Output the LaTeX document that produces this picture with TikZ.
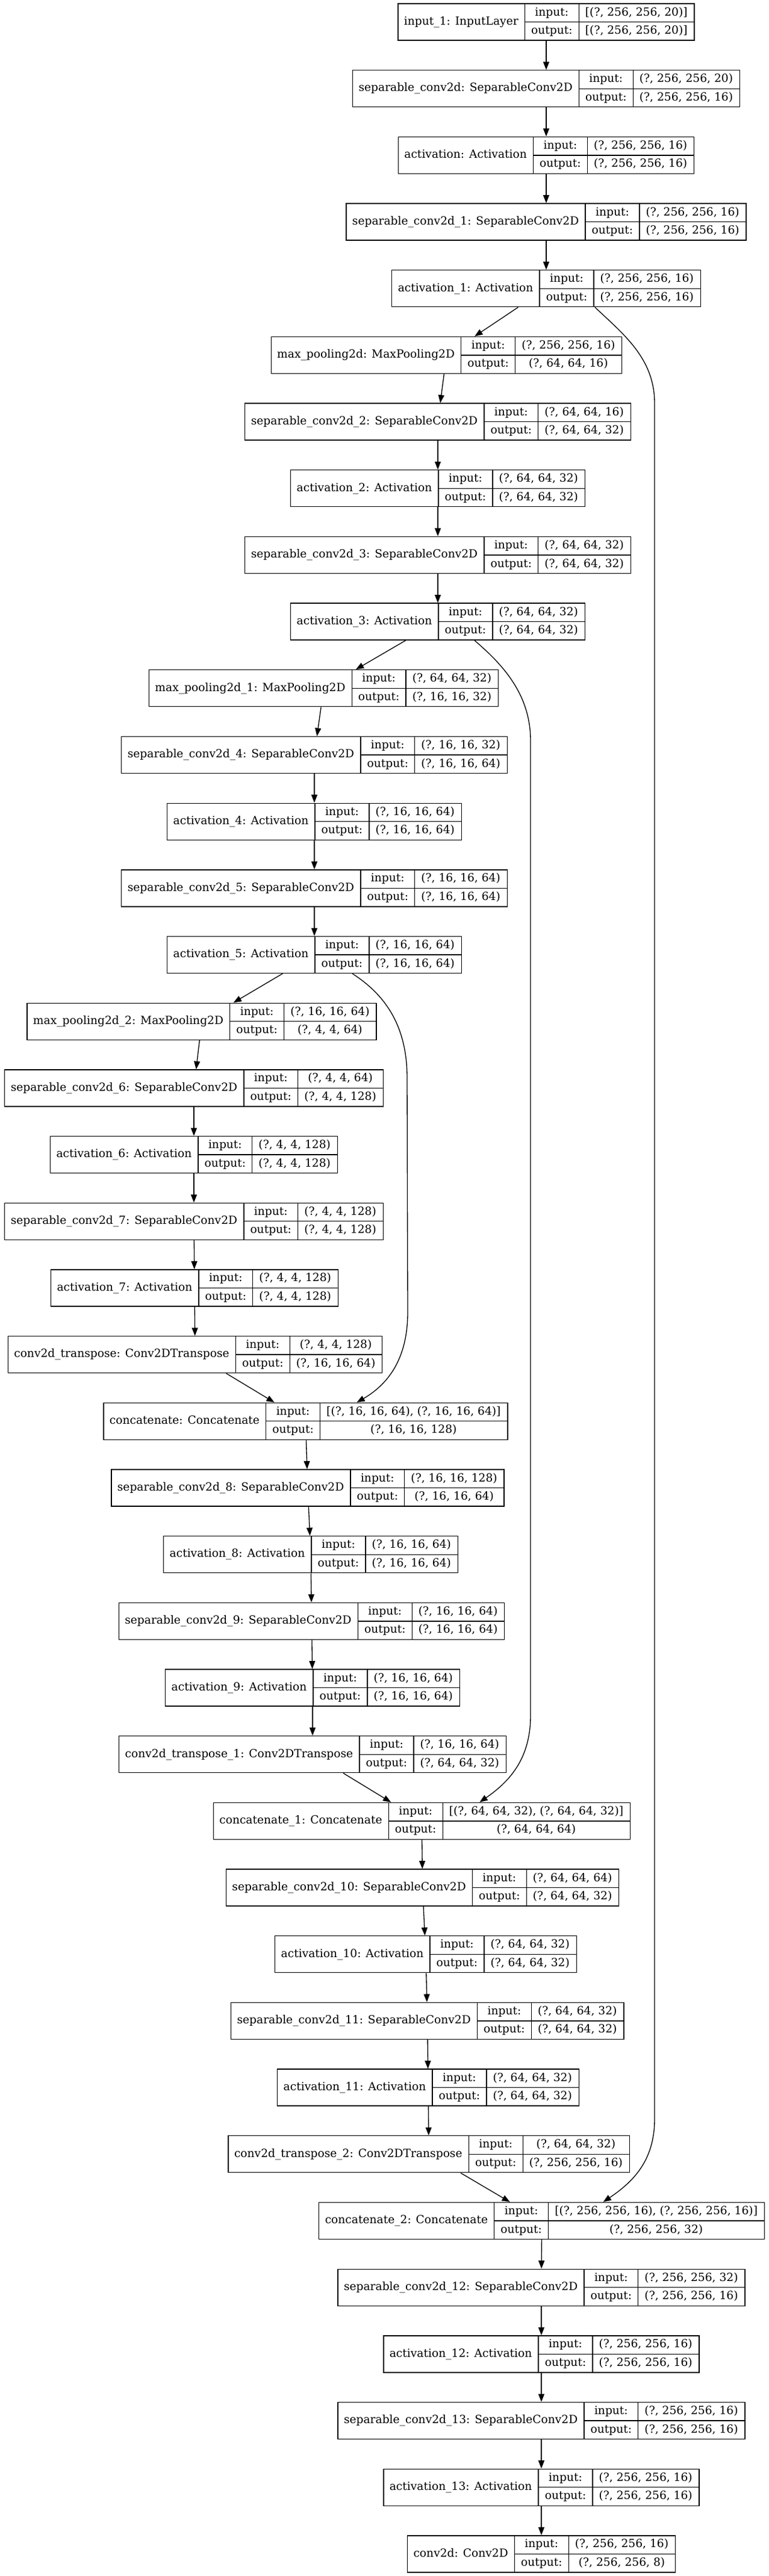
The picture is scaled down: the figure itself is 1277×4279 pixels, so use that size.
\documentclass[tikz,border=0pt]{standalone}
\usepackage{fontspec}
\newfontfamily\dvs{DejaVu Serif}
\usetikzlibrary{arrows.meta,calc}
\newlength\wA \newlength\wB \newlength\wC \newlength\wT
\newsavebox\msrbox
\newcommand\lf{\dvs\fontsize{14pt}{16pt}\selectfont}
\tikzset{
  box/.style={draw, line width=1pt, inner sep=0pt, minimum height=45.75pt, rectangle},
  txt/.style={font=\lf, inner sep=0pt, anchor=center, text height=10.2pt, text depth=3pt},
  arr/.style={line width=1pt, -{Triangle[length=10pt,width=7.5pt]}},
  sepline/.style={line width=1pt}
}
% measuring pass (outside the picture)
\newcommand\measL[6]{%
  \sbox\msrbox{\lf #4}\setlength\wA{\wd\msrbox}\addtolength\wA{16pt}%
  \sbox\msrbox{\lf output:}\setlength\wB{\wd\msrbox}\addtolength\wB{16pt}%
  \sbox\msrbox{\lf #5}\setlength\wC{\wd\msrbox}%
  \sbox\msrbox{\lf #6}\ifdim\wd\msrbox>\wC \setlength\wC{\wd\msrbox}\fi
  \addtolength\wC{16pt}%
  \expandafter\xdef\csname lwA#1\endcsname{\the\wA}%
  \expandafter\xdef\csname lwB#1\endcsname{\the\wB}%
  \expandafter\xdef\csname lwC#1\endcsname{\the\wC}%
}
% drawing pass
\newcommand\drawL[6]{%
  \setlength\wA{\csname lwA#1\endcsname}%
  \setlength\wB{\csname lwB#1\endcsname}%
  \setlength\wC{\csname lwC#1\endcsname}%
  \setlength\wT{\wA}\addtolength\wT{\wB}\addtolength\wT{\wC}%
  \pgfmathsetmacro\yy{36.5+(#3-1)*110.68}%
  \node[box, minimum width=\wT] (#1) at (#2,\yy) {};
  \draw[sepline] ([xshift=\wA]#1.north west) -- ([xshift=\wA]#1.south west);
  \draw[sepline] ([xshift=\wA+\wB]#1.north west) -- ([xshift=\wA+\wB]#1.south west);
  \draw[sepline] ([xshift=\wA]#1.west) -- (#1.east);
  \node[txt] at ([xshift=0.5*\wA]#1.west) {#4};
  \node[txt] at ([xshift=\wA+0.5*\wB, yshift=11.44pt]#1.west) {input:};
  \node[txt] at ([xshift=\wA+0.5*\wB, yshift=-11.44pt]#1.west) {output:};
  \node[txt] at ([xshift=\wA+\wB+0.5*\wC, yshift=11.44pt]#1.west) {#5};
  \node[txt] at ([xshift=\wA+\wB+0.5*\wC, yshift=-11.44pt]#1.west) {#6};
}
\newcommand\layerlist{%
\LYR{in1}{907}{1}{input\_1: InputLayer}{[(?, 256, 256, 20)]}{[(?, 256, 256, 20)]}
\LYR{sc0}{907}{2}{separable\_conv2d: SeparableConv2D}{(?, 256, 256, 20)}{(?, 256, 256, 16)}
\LYR{a0}{907}{3}{activation: Activation}{(?, 256, 256, 16)}{(?, 256, 256, 16)}
\LYR{sc1}{907}{4}{separable\_conv2d\_1: SeparableConv2D}{(?, 256, 256, 16)}{(?, 256, 256, 16)}
\LYR{a1}{907}{5}{activation\_1: Activation}{(?, 256, 256, 16)}{(?, 256, 256, 16)}
\LYR{mp0}{741.5}{6}{max\_pooling2d: MaxPooling2D}{(?, 256, 256, 16)}{(?, 64, 64, 16)}
\LYR{sc2}{727}{7}{separable\_conv2d\_2: SeparableConv2D}{(?, 64, 64, 16)}{(?, 64, 64, 32)}
\LYR{a2}{727}{8}{activation\_2: Activation}{(?, 64, 64, 32)}{(?, 64, 64, 32)}
\LYR{sc3}{727}{9}{separable\_conv2d\_3: SeparableConv2D}{(?, 64, 64, 32)}{(?, 64, 64, 32)}
\LYR{a3}{727}{10}{activation\_3: Activation}{(?, 64, 64, 32)}{(?, 64, 64, 32)}
\LYR{mp1}{537.5}{11}{max\_pooling2d\_1: MaxPooling2D}{(?, 64, 64, 32)}{(?, 16, 16, 32)}
\LYR{sc4}{522}{12}{separable\_conv2d\_4: SeparableConv2D}{(?, 16, 16, 32)}{(?, 16, 16, 64)}
\LYR{a4}{522}{13}{activation\_4: Activation}{(?, 16, 16, 64)}{(?, 16, 16, 64)}
\LYR{sc5}{522}{14}{separable\_conv2d\_5: SeparableConv2D}{(?, 16, 16, 64)}{(?, 16, 16, 64)}
\LYR{a5}{522}{15}{activation\_5: Activation}{(?, 16, 16, 64)}{(?, 16, 16, 64)}
\LYR{mp2}{335}{16}{max\_pooling2d\_2: MaxPooling2D}{(?, 16, 16, 64)}{(?, 4, 4, 64)}
\LYR{sc6}{322}{17}{separable\_conv2d\_6: SeparableConv2D}{(?, 4, 4, 64)}{(?, 4, 4, 128)}
\LYR{a6}{322}{18}{activation\_6: Activation}{(?, 4, 4, 128)}{(?, 4, 4, 128)}
\LYR{sc7}{322}{19}{separable\_conv2d\_7: SeparableConv2D}{(?, 4, 4, 128)}{(?, 4, 4, 128)}
\LYR{a7}{323}{20}{activation\_7: Activation}{(?, 4, 4, 128)}{(?, 4, 4, 128)}
\LYR{ct0}{324}{21}{conv2d\_transpose: Conv2DTranspose}{(?, 4, 4, 128)}{(?, 16, 16, 64)}
\LYR{cc0}{507.4}{22}{concatenate: Concatenate}{[(?, 16, 16, 64), (?, 16, 16, 64)]}{(?, 16, 16, 128)}
\LYR{sc8}{511}{23}{separable\_conv2d\_8: SeparableConv2D}{(?, 16, 16, 128)}{(?, 16, 16, 64)}
\LYR{a8}{516}{24}{activation\_8: Activation}{(?, 16, 16, 64)}{(?, 16, 16, 64)}
\LYR{sc9}{517.5}{25}{separable\_conv2d\_9: SeparableConv2D}{(?, 16, 16, 64)}{(?, 16, 16, 64)}
\LYR{a9}{519}{26}{activation\_9: Activation}{(?, 16, 16, 64)}{(?, 16, 16, 64)}
\LYR{ct1}{519}{27}{conv2d\_transpose\_1: Conv2DTranspose}{(?, 16, 16, 64)}{(?, 64, 64, 32)}
\LYR{cc1}{700.4}{28}{concatenate\_1: Concatenate}{[(?, 64, 64, 32), (?, 64, 64, 32)]}{(?, 64, 64, 64)}
\LYR{sc10}{701.6}{29}{separable\_conv2d\_10: SeparableConv2D}{(?, 64, 64, 64)}{(?, 64, 64, 32)}
\LYR{a10}{707}{30}{activation\_10: Activation}{(?, 64, 64, 32)}{(?, 64, 64, 32)}
\LYR{sc11}{709.7}{31}{separable\_conv2d\_11: SeparableConv2D}{(?, 64, 64, 32)}{(?, 64, 64, 32)}
\LYR{a11}{711}{32}{activation\_11: Activation}{(?, 64, 64, 32)}{(?, 64, 64, 32)}
\LYR{ct2}{712.2}{33}{conv2d\_transpose\_2: Conv2DTranspose}{(?, 64, 64, 32)}{(?, 256, 256, 16)}
\LYR{cc2}{899.6}{34}{concatenate\_2: Concatenate}{[(?, 256, 256, 16), (?, 256, 256, 16)]}{(?, 256, 256, 32)}
\LYR{sc12}{899}{35}{separable\_conv2d\_12: SeparableConv2D}{(?, 256, 256, 32)}{(?, 256, 256, 16)}
\LYR{a12}{899}{36}{activation\_12: Activation}{(?, 256, 256, 16)}{(?, 256, 256, 16)}
\LYR{sc13}{899}{37}{separable\_conv2d\_13: SeparableConv2D}{(?, 256, 256, 16)}{(?, 256, 256, 16)}
\LYR{a13}{899}{38}{activation\_13: Activation}{(?, 256, 256, 16)}{(?, 256, 256, 16)}
\LYR{cv}{899}{39}{conv2d: Conv2D}{(?, 256, 256, 16)}{(?, 256, 256, 8)}
}
\begin{document}
\let\LYR\measL
\layerlist
\let\LYR\drawL
\begin{tikzpicture}[x=0.75pt, y=-0.75pt]
\fill[white] (0,0) rectangle (1277,4279);
\useasboundingbox (0,0) rectangle (1277,4279);
\layerlist
% chain edges
\foreach \p/\q in {in1/sc0, sc0/a0, a0/sc1, sc1/a1, a1/mp0, mp0/sc2, sc2/a2, a2/sc3, sc3/a3,
  a3/mp1, mp1/sc4, sc4/a4, a4/sc5, sc5/a5, a5/mp2, mp2/sc6, sc6/a6, a6/sc7, sc7/a7, a7/ct0,
  ct0/cc0, cc0/sc8, sc8/a8, a8/sc9, sc9/a9, a9/ct1, ct1/cc1, cc1/sc10, sc10/a10, a10/sc11,
  sc11/a11, a11/ct2, ct2/cc2, cc2/sc12, sc12/a12, a12/sc13, sc13/a13, a13/cv}
  \draw[arr] (\p) -- (\q);
% skip connections
\draw[arr] ($(a1.south)+(81,0)$) .. controls (1035,555) and (1087,595) .. (1087,670)
  -- (1087,3520) .. controls (1087,3590) and (1050,3625) .. ($(cc2.north)+(102,0)$);
\draw[arr] ($(a3.south)+(61,0)$) .. controls (830,1100) and (881,1150) .. (881,1230)
  -- (881,2850) .. controls (881,2925) and (842,2962) .. ($(cc1.north)+(96,0)$);
\draw[arr] ($(a5.south)+(63,0)$) .. controls (636,1650) and (676,1700) .. (676,1790)
  -- (677,2180) .. controls (677,2262) and (640,2302) .. ($(cc0.north)+(85,0)$);
\end{tikzpicture}
\end{document}
